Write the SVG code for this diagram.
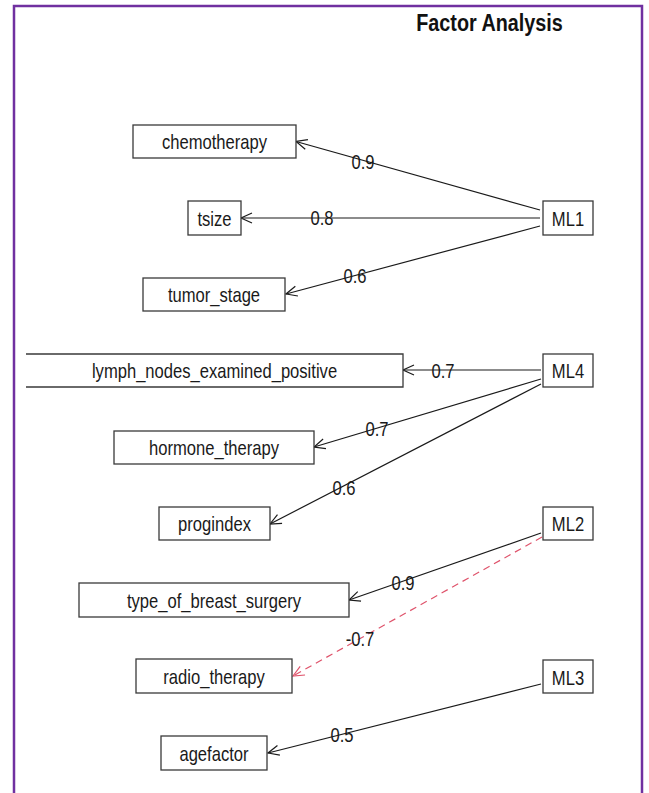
<svg xmlns="http://www.w3.org/2000/svg" width="649" height="793" viewBox="0 0 649 793">
<style>
  .box { fill: #ffffff; stroke: #3a3a3a; stroke-width: 1.3; }
  .lbl { font-family: "Liberation Sans", Arial, sans-serif; font-size: 20px; fill: #1a1a1a; text-anchor: middle; }
  .edge { stroke: #1a1a1a; stroke-width: 1.2; fill: none; marker-end: url(#arr); }
  .neg { stroke: #DF536B; stroke-width: 1.2; fill: none; stroke-dasharray: 7 5; marker-end: url(#arrR); }
  .elbl { font-family: "Liberation Sans", Arial, sans-serif; font-size: 20px; fill: #1a1a1a; text-anchor: middle; }
  .title { font-family: "Liberation Sans", Arial, sans-serif; font-size: 23px; font-weight: bold; fill: #111; text-anchor: middle; }
</style>
<defs>
  <marker id="arr" markerUnits="userSpaceOnUse" markerWidth="14" markerHeight="14" viewBox="-12 -7 14 14" refX="0" refY="0" orient="auto">
    <path d="M -11,-5 L 0,0 L -11,5" fill="none" stroke="#1a1a1a" stroke-width="1.2"/>
  </marker>
  <marker id="arrR" markerUnits="userSpaceOnUse" markerWidth="14" markerHeight="14" viewBox="-12 -7 14 14" refX="0" refY="0" orient="auto">
    <path d="M -11,-5 L 0,0 L -11,5" fill="none" stroke="#DF536B" stroke-width="1.2"/>
  </marker>
</defs>
<rect x="0" y="0" width="649" height="793" fill="#ffffff"/>
<path d="M14,800 V6 H642 V800" fill="none" stroke="#7030A0" stroke-width="2.5"/>
<text class="title" transform="translate(489.5,31) scale(0.86,1)">Factor Analysis</text>

<g id="connectors">
  <line class="edge" x1="540" y1="210" x2="296" y2="141.5"/>
  <line class="edge" x1="540" y1="218" x2="241" y2="218"/>
  <line class="edge" x1="540" y1="226" x2="286" y2="294"/>
  <line class="edge" x1="541" y1="370" x2="403" y2="370"/>
  <line class="edge" x1="541" y1="379" x2="314" y2="447"/>
  <line class="edge" x1="541" y1="384" x2="270" y2="524"/>
  <line class="edge" x1="541" y1="533" x2="349" y2="600"/>
  <line class="neg" x1="542" y1="537" x2="293" y2="676"/>
  <line class="edge" x1="541" y1="684" x2="268" y2="753"/>
  <text class="elbl" transform="translate(363,169) scale(0.83,1)">0.9</text>
  <text class="elbl" transform="translate(322,225) scale(0.83,1)">0.8</text>
  <text class="elbl" transform="translate(355,283) scale(0.83,1)">0.6</text>
  <text class="elbl" transform="translate(443,378) scale(0.83,1)">0.7</text>
  <text class="elbl" transform="translate(377,436) scale(0.83,1)">0.7</text>
  <text class="elbl" transform="translate(344,495) scale(0.83,1)">0.6</text>
  <text class="elbl" transform="translate(403,590) scale(0.83,1)">0.9</text>
  <text class="elbl" transform="translate(360,646) scale(0.83,1)">-0.7</text>
  <text class="elbl" transform="translate(342,742) scale(0.83,1)">0.5</text>
</g>

<g id="chemotherapy"><rect class="box" x="133" y="125" width="163" height="33"/><text class="lbl" transform="translate(214.5,149) scale(0.83,1)">chemotherapy</text></g>
<g id="tsize"><rect class="box" x="188" y="201" width="53" height="34"/><text class="lbl" transform="translate(214.5,226) scale(0.83,1)">tsize</text></g>
<g id="tumor_stage"><rect class="box" x="143" y="278" width="142" height="33"/><text class="lbl" transform="translate(214,302) scale(0.83,1)">tumor_stage</text></g>
<g id="lymph_nodes_examined_positive"><path class="box" d="M26,354 H403 V387 H26"/><text class="lbl" transform="translate(214.5,378) scale(0.83,1)">lymph_nodes_examined_positive</text></g>
<g id="hormone_therapy"><rect class="box" x="114" y="431" width="200" height="33"/><text class="lbl" transform="translate(214,455) scale(0.83,1)">hormone_therapy</text></g>
<g id="progindex"><rect class="box" x="159" y="507" width="111" height="33"/><text class="lbl" transform="translate(214.5,531) scale(0.83,1)">progindex</text></g>
<g id="type_of_breast_surgery"><rect class="box" x="79" y="583" width="270" height="34"/><text class="lbl" transform="translate(214,608) scale(0.83,1)">type_of_breast_surgery</text></g>
<g id="radio_therapy"><rect class="box" x="136" y="659" width="156" height="34"/><text class="lbl" transform="translate(214,684) scale(0.83,1)">radio_therapy</text></g>
<g id="agefactor"><rect class="box" x="161" y="736" width="106" height="34"/><text class="lbl" transform="translate(214,761) scale(0.83,1)">agefactor</text></g>
<g id="ML1"><rect class="box" x="543" y="201" width="50" height="34"/><text class="lbl" transform="translate(568,226) scale(0.83,1)">ML1</text></g>
<g id="ML4"><rect class="box" x="543" y="354" width="50" height="33"/><text class="lbl" transform="translate(568,378) scale(0.83,1)">ML4</text></g>
<g id="ML2"><rect class="box" x="543" y="507" width="50" height="33"/><text class="lbl" transform="translate(568,531) scale(0.83,1)">ML2</text></g>
<g id="ML3"><rect class="box" x="543" y="660" width="50" height="33"/><text class="lbl" transform="translate(568,685) scale(0.83,1)">ML3</text></g>
</svg>
